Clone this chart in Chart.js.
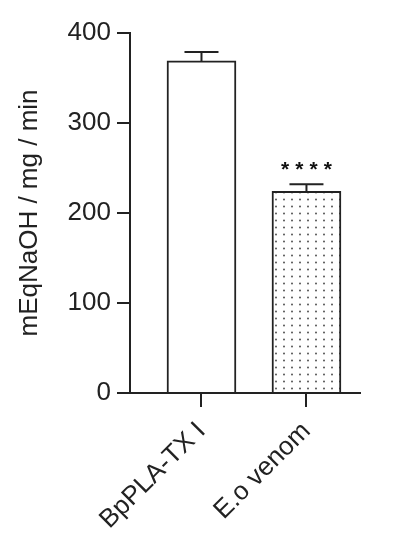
<!DOCTYPE html>
<html>
<head>
<meta charset="utf-8">
<script src="https://cdn.jsdelivr.net/npm/chart.js@4"></script>
<style>
  html, body { margin: 0; padding: 0; background: #fff; }
  #wrap { width: 400px; height: 550px; }
</style>
</head>
<body>
<div id="wrap"><canvas id="c" width="400" height="550"></canvas></div>
<script>
// data
var categories = ['BpPLA-TX I', 'E.o venom'];
var values = [369, 224];
var errors = [10, 8];
var stars = ['', '****'];
var yTicks = [0, 100, 200, 300, 400];

var ink = '#222222';
var font = 'Liberation Sans, Arial, sans-serif';

// dotted fill for the venom bar
function dotPattern() {
    var p = document.createElement('canvas');
    p.width = 8; p.height = 7;
    var g = p.getContext('2d');
    g.fillStyle = '#fff';
    g.fillRect(0, 0, 8, 7);
    g.fillStyle = '#555';
    g.beginPath();
    g.arc(4, 3.5, 1, 0, Math.PI * 2);
    g.fill();
    return document.getElementById('c').getContext('2d').createPattern(p, 'repeat');
}

var errorBars = {
    id: 'errorBars',
    afterDatasetsDraw: function(chart) {
        var ctx = chart.ctx;
        var xs = chart.scales.x, ys = chart.scales.y;
        ctx.save();
        ctx.strokeStyle = ink;
        ctx.lineWidth = 2;
        for (var i = 0; i < values.length; i++) {
            var x = xs.getPixelForValue(i);
            var y0 = ys.getPixelForValue(values[i]);
            var y1 = ys.getPixelForValue(values[i] + errors[i]);
            ctx.beginPath();
            ctx.moveTo(x, y0);
            ctx.lineTo(x, y1);
            ctx.moveTo(x - 17, y1);
            ctx.lineTo(x + 17, y1);
            ctx.stroke();
            if (stars[i]) {
                ctx.fillStyle = '#111';
                ctx.font = 'bold 21px ' + font;
                ctx.letterSpacing = '6px';
                ctx.textAlign = 'center';
                ctx.textBaseline = 'alphabetic';
                ctx.fillText(stars[i], x + 3, y1 - 8);
            }
        }
        ctx.restore();
    }
};

new Chart(document.getElementById('c'), {
    type: 'bar',
    data: {
        datasets: [{
            data: values.map(function(v, i) { return {x: i, y: v}; }),
            backgroundColor: ['#ffffff', dotPattern()],
            borderColor: ink,
            borderWidth: 2,
            borderSkipped: 'bottom',
            barThickness: 69
        }]
    },
    options: {
        responsive: false,
        animation: false,
        layout: { padding: { top: 33, right: 40, left: 0, bottom: 0 } },
        plugins: { legend: { display: false }, tooltip: { enabled: false } },
        scales: {
            x: {
                type: 'linear',
                offset: false,
                min: -0.681,
                max: 1.51,
                afterBuildTicks: function(scale) {
                    scale.ticks = categories.map(function(c, i) { return {value: i}; });
                },
                afterFit: function(scale) { scale.height = 157; },
                grid: { offset: false, drawOnChartArea: false, drawTicks: true, tickLength: 14, color: ink, lineWidth: 2 },
                border: { color: ink, width: 2 },
                ticks: {
                    minRotation: 45, maxRotation: 45,
                    color: ink,
                    font: { family: font, size: 26 },
                    padding: 9,
                    callback: function(v) { return categories[v]; }
                }
            },
            y: {
                min: 0, max: 400,
                afterBuildTicks: function(scale) {
                    scale.ticks = yTicks.map(function(t) { return {value: t}; });
                },
                afterFit: function(scale) { scale.width = 130; },
                grid: { drawOnChartArea: false, drawTicks: true, tickLength: 13, color: ink, lineWidth: 2 },
                border: { color: ink, width: 2 },
                ticks: { color: ink, font: { family: font, size: 26 }, padding: 6 },
                title: {
                    display: true,
                    text: 'mEqNaOH / mg / min',
                    color: ink,
                    font: { family: font, size: 26 },
                    padding: { top: 14, bottom: 0 }
                }
            }
        }
    },
    plugins: [errorBars]
});
</script>
</body>
</html>
